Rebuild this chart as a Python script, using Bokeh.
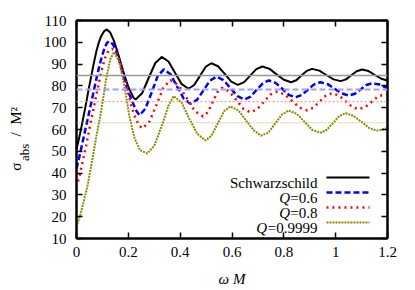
import math
from bokeh.plotting import figure
from bokeh.models import Range1d, FixedTicker, LinearAxis, Span, Label, ColumnDataSource
from bokeh.embed import file_html
from bokeh.resources import INLINE

# ---------------- data ----------------
w_schw = [0, 0.009, 0.018, 0.028, 0.037, 0.047, 0.057, 0.066, 0.076, 0.085, 0.095, 0.106, 0.117,
          0.13, 0.145, 0.16, 0.172, 0.185, 0.2, 0.211, 0.22, 0.228,
          0.253, 0.278, 0.304, 0.329, 0.355, 0.38, 0.406, 0.432,
          0.454, 0.476, 0.498, 0.52, 0.546, 0.572, 0.597, 0.623,
          0.647, 0.67, 0.694, 0.717, 0.745, 0.772, 0.8, 0.828,
          0.848, 0.868, 0.889, 0.909, 0.937, 0.964, 0.992, 1.019,
          1.04, 1.06, 1.081, 1.102, 1.127, 1.151, 1.176, 1.2]
s_schw = [50.8, 55.5, 60.5, 66.5, 72, 78.5, 84.5, 90, 95.5, 99.5, 102.8, 105, 105.9,
          104.5, 100.5, 95, 90, 85, 79.5, 76.8, 74.6, 73.8,
          76.6, 83.5, 90.5, 93.3, 91.2, 86, 80.8, 78.7,
          80.4, 84.5, 88.7, 90.4, 89, 85.5, 82, 80.5,
          81.7, 84.7, 87.7, 88.9, 87.8, 85.3, 82.8, 81.7,
          82.6, 84.8, 86.9, 87.8, 87, 85, 83, 82.2,
          83, 84.9, 86.7, 87.5, 86.8, 85, 83.3, 82.5]

w_q06 = [0, 0.012, 0.024, 0.037, 0.05, 0.06, 0.069, 0.079, 0.089, 0.098, 0.108, 0.117, 0.125,
         0.14, 0.155, 0.17, 0.184, 0.2, 0.211, 0.227, 0.243,
         0.266, 0.29, 0.313, 0.337, 0.363, 0.388, 0.414, 0.44,
         0.465, 0.49, 0.515, 0.54, 0.567, 0.594, 0.621, 0.648,
         0.672, 0.695, 0.719, 0.742, 0.768, 0.794, 0.819, 0.845,
         0.869, 0.893, 0.917, 0.941, 0.969, 0.996, 1.024, 1.051,
         1.074, 1.096, 1.119, 1.141, 1.17, 1.2]
s_q06 = [42, 48, 54.5, 61.5, 68.5, 74, 79, 84.5, 89.5, 93.5, 97.3, 99.6, 100.5,
         99.2, 95.5, 89.7, 83.5, 77, 74.3, 69.3, 66.5,
         69.6, 77, 84.5, 87.6, 85.3, 79.7, 74.1, 71.8,
         73.6, 78, 82.4, 84.2, 82.7, 79, 75.3, 73.8,
         75.1, 78.2, 81.2, 82.5, 81.4, 78.7, 75.9, 74.8,
         75.8, 78.3, 80.7, 81.7, 80.8, 78.7, 76.5, 75.6,
         76.4, 78.4, 80.4, 81.2, 80.6, 78.9]

w_q08 = [0, 0.012, 0.024, 0.037, 0.05, 0.063, 0.076, 0.089, 0.101, 0.112, 0.124, 0.136,
         0.15, 0.167, 0.183, 0.196, 0.211, 0.226, 0.24, 0.255,
         0.282, 0.309, 0.336, 0.363, 0.394, 0.426, 0.457, 0.488,
         0.507, 0.525, 0.544, 0.562, 0.589, 0.617, 0.644, 0.671,
         0.697, 0.723, 0.748, 0.774, 0.803, 0.832, 0.861, 0.89,
         0.914, 0.938, 0.962, 0.986, 1.012, 1.038, 1.063, 1.089,
         1.114, 1.14, 1.165, 1.2]
s_q08 = [33.5, 39, 45.5, 52.5, 60.5, 68, 75.5, 83, 89, 93.5, 96.2, 97,
         96, 91.7, 85, 78.8, 71, 65.8, 62, 60.5,
         63.7, 71.5, 79.4, 82.6, 80.2, 74.3, 68.4, 66,
         67.9, 72.5, 77.2, 79.1, 77.5, 73.5, 69.5, 67.9,
         69.3, 72.7, 76, 77.4, 76.1, 73.1, 70, 68.8,
         70, 72.8, 75.5, 76.7, 75.6, 73, 70.4, 69.3,
         70.3, 72.8, 75.3, 76.3]

w_q09999 = [0, 0.015, 0.031, 0.044, 0.057, 0.066, 0.076, 0.089, 0.1, 0.115, 0.131, 0.145,
            0.165, 0.185, 0.204, 0.224, 0.245, 0.273, 0.3, 0.333, 0.355, 0.375,
            0.405, 0.435, 0.466, 0.498, 0.52, 0.546, 0.57, 0.594,
            0.625, 0.655, 0.685, 0.712, 0.74, 0.765, 0.792, 0.819,
            0.85, 0.88, 0.91, 0.941, 0.965, 0.99, 1.014, 1.038,
            1.068, 1.1, 1.13, 1.16, 1.18, 1.2]
s_q09999 = [15.2, 21, 28.5, 35, 43.5, 49.5, 56.5, 64.5, 72, 83.5, 92.5, 95.5,
            91, 80, 66, 56, 50.5, 49, 52.5, 63, 71, 75.3,
            72.5, 65, 58, 55, 57, 63, 68.5, 70.6,
            68.7, 64, 59.5, 57.2, 58.5, 62.5, 66.8, 68.7,
            67.2, 63.5, 59.8, 58.5, 59.8, 63, 66.2, 67.5,
            66.3, 63.5, 60.6, 59.5, 59.9, 60.8]

# high-frequency limits (horizontal reference lines)
limits = [84.8, 78.3, 72.8, 63.1]

series_names = ["Schwarzschild", "0.6", "0.8", "0.9999"]

x_ticks = [0, 0.2, 0.4, 0.6, 0.8, 1, 1.2]
x_tick_labels = ["0", "0.2", "0.4", "0.6", "0.8", "1", "1.2"]
y_ticks = [10, 20, 30, 40, 50, 60, 70, 80, 90, 100, 110]

# ---------------- figure ----------------
FONT = "Liberation Serif"
NB = "\u00a0"
p = figure(width=407, height=290, output_backend="svg", toolbar_location=None,
           x_range=Range1d(0, 1.2), y_range=Range1d(10, 110),
           min_border_left=76, min_border_right=20, min_border_top=20, min_border_bottom=52)
p.background_fill_color = "white"
p.border_fill_color = "white"
p.xgrid.visible = False
p.ygrid.visible = False
p.outline_line_color = "black"
p.outline_line_width = 2


def px_x(px):
    return (px - 76) / 259.2


def px_y(py):
    return (238 - py) / 2.18 + 10


def style_axis(ax, ticks, show_labels, standoff):
    ax.ticker = FixedTicker(ticks=ticks)
    ax.axis_line_width = 2
    ax.axis_line_color = "black"
    ax.major_tick_in = 6
    ax.major_tick_out = 0
    ax.major_tick_line_width = 1.5
    ax.minor_tick_line_color = None
    ax.major_label_text_font = FONT
    ax.major_label_text_color = "black"
    ax.major_label_standoff = standoff
    if show_labels:
        ax.major_label_text_font_size = "15px"
    else:
        ax.major_label_text_font_size = "0px"
        ax.major_label_standoff = 0


xax = p.xaxis[0]
style_axis(xax, x_ticks, True, 8)
xax.major_label_overrides = {t: l for t, l in zip(x_ticks, x_tick_labels)}
xax.axis_label = "ω M"
xax.axis_label_text_font = FONT
xax.axis_label_text_font_style = "italic"
xax.axis_label_text_font_size = "15px"
xax.axis_label_text_color = "black"
xax.axis_label_standoff = 11

# y axis: ticks + the subscript "abs" of the title (as the axis' own label)
yax = p.yaxis[0]
style_axis(yax, y_ticks, True, 10)
yax.axis_label = "abs" + NB * 14
yax.axis_label_text_font = FONT
yax.axis_label_text_font_style = "normal"
yax.axis_label_text_font_size = "13px"
yax.axis_label_text_color = "black"
yax.axis_label_standoff = 9

# second left axis carrying the main part of the y title
ytitle_ax = LinearAxis(ticker=FixedTicker(ticks=[]))
ytitle_ax.axis_line_color = None
ytitle_ax.major_tick_line_color = None
ytitle_ax.minor_tick_line_color = None
ytitle_ax.major_label_text_font_size = "0px"
ytitle_ax.major_label_standoff = 0
ytitle_ax.major_tick_out = 0
ytitle_ax.major_tick_in = 0
ytitle_ax.axis_label = "σ" + NB * 7 + "/" + NB * 2 + "M²" + NB * 5
ytitle_ax.axis_label_text_font = FONT
ytitle_ax.axis_label_text_font_style = "normal"
ytitle_ax.axis_label_text_font_size = "15px"
ytitle_ax.axis_label_text_color = "black"
ytitle_ax.axis_label_standoff = -10
p.add_layout(ytitle_ax, "left")

top_ax = LinearAxis()
style_axis(top_ax, x_ticks, False, 0)
p.add_layout(top_ax, "above")
right_ax = LinearAxis()
style_axis(right_ax, y_ticks, False, 0)
p.add_layout(right_ax, "right")

# reference lines
ref_styles = [
    dict(line_color="#999999", line_width=1.5, line_dash="solid"),
    dict(line_color="#a0a0ff", line_width=2, line_dash="6 3"),
    dict(line_color="#ff9a9a", line_width=1.2, line_dash="2 2"),
    dict(line_color="#a8a830", line_width=1.0, line_dash="1 2"),
]
for lim, st in zip(limits, ref_styles):
    p.add_layout(Span(location=lim, dimension="width", **st))

curve_styles = [
    dict(line_color="black", line_width=2, line_dash="solid"),
    dict(line_color="#0000ff", line_width=2.5, line_dash="6 3"),
    dict(line_color="#ff0000", line_width=2.5, line_dash="2 4"),
    dict(line_color="#8a8a00", line_width=2, line_dash="2 1"),
]
xs = [w_schw, w_q06, w_q08, w_q09999]
ys = [s_schw, s_q06, s_q08, s_q09999]

try:
    from bokeh.models import Spline
except Exception:
    Spline = None


def draw_curve(x, y, **kw):
    if Spline is not None:
        src = ColumnDataSource(dict(x=x, y=y))
        return p.add_glyph(src, Spline(x="x", y="y", tension=0.5, **kw))
    return p.line(x, y, **kw)


for x, y, st in zip(xs, ys, curve_styles):
    draw_curve(x, y, **st)

# ---------------- legend (manual, for italic Q) ----------------
row_py = [177, 192, 207, 222]
eq_widths = [0, 27.5, 27.5, 50.5]
for i, (name, st) in enumerate(zip(series_names, curve_styles)):
    yline = px_y(row_py[i])
    p.line([px_x(326), px_x(369)], [yline, yline], **st)
    ybase = px_y(row_py[i] + 5)
    if i == 0:
        p.add_layout(Label(x=px_x(317), y=ybase, text=name, text_align="right",
                           text_baseline="alphabetic", text_font=FONT,
                           text_font_size="15px", text_color="black"))
    else:
        p.add_layout(Label(x=px_x(317), y=ybase, text="=" + name, text_align="right",
                           text_baseline="alphabetic", text_font=FONT,
                           text_font_size="15px", text_color="black"))
        p.add_layout(Label(x=px_x(317 - eq_widths[i]), y=ybase, text="Q", text_align="right",
                           text_baseline="alphabetic", text_font=FONT,
                           text_font_style="italic",
                           text_font_size="15px", text_color="black"))

open("out.html", "w").write(file_html(p, INLINE))
